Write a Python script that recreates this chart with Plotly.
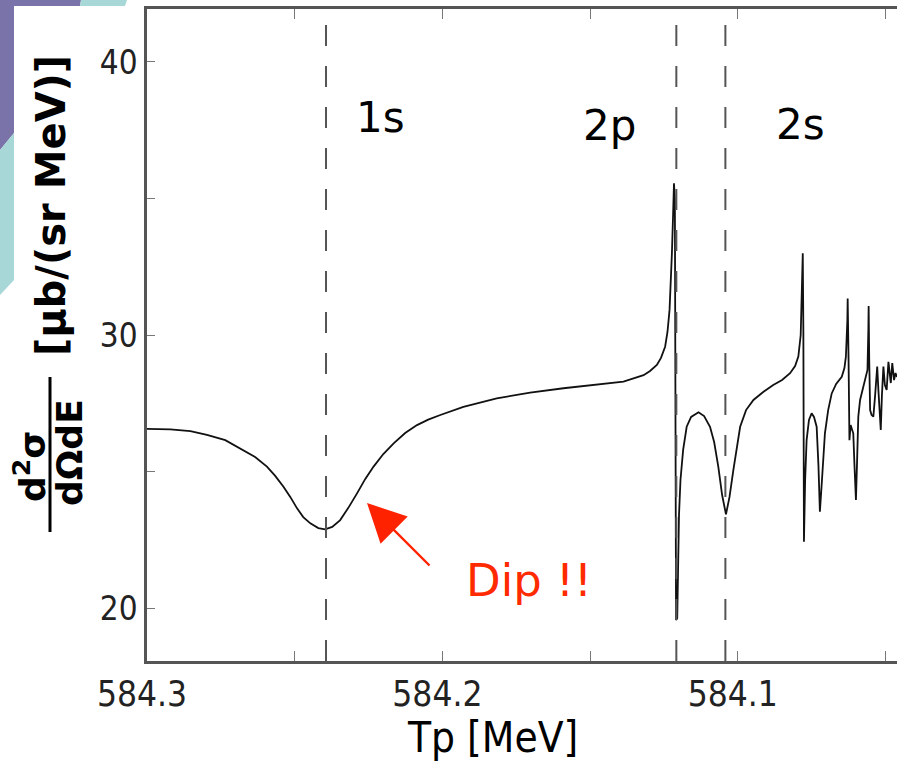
import plotly.graph_objects as go

# ---- data ----
tp_mev = [
    584.3000, 584.2921, 584.2853, 584.2797, 584.2735, 584.2684, 584.2634, 584.2594,
    584.2566, 584.2538, 584.2515, 584.2492, 584.2471, 584.2447, 584.2420, 584.2397,
    584.2373, 584.2346, 584.2319, 584.2289, 584.2261, 584.2233, 584.2200, 584.2165,
    584.2126, 584.2086, 584.2048, 584.2007, 584.1929, 584.1816, 584.1703, 584.1590,
    584.1477, 584.1387, 584.1319, 584.1297, 584.1274, 584.1260, 584.1246, 584.1238,
    584.1231, 584.1227, 584.1223, 584.1219, 584.1216, 584.1213, 584.1211, 584.1209,
    584.1205, 584.1202, 584.1199, 584.1194, 584.1185, 584.1173, 584.1158, 584.1133,
    584.1114, 584.1094, 584.1080, 584.1066, 584.1053, 584.1040, 584.1028, 584.1015,
    584.1002, 584.0992, 584.0972, 584.0947, 584.0914, 584.0880, 584.0850, 584.0823,
    584.0806, 584.0795, 584.0787, 584.0783, 584.0780, 584.0778, 584.0776, 584.0772,
    584.0767, 584.0759, 584.0750, 584.0742, 584.0733, 584.0727, 584.0722, 584.0715,
    584.0705, 584.0694, 584.0682, 584.0667, 584.0648, 584.0639, 584.0634, 584.0629,
    584.0628, 584.0625, 584.0622, 584.0618, 584.0614, 584.0609, 584.0605, 584.0600,
    584.0596, 584.0592, 584.0586, 584.0575, 584.0566, 584.0561, 584.0558, 584.0557,
    584.0555, 584.0552, 584.0547, 584.0541, 584.0535, 584.0530, 584.0528, 584.0524,
    584.0516, 584.0512, 584.0507, 584.0502, 584.0496, 584.0490, 584.0486, 584.0482,
    584.0477, 584.0471, 584.0466, 584.0461,
]
cross_section = [
    26.56, 26.54, 26.48, 26.34, 26.15, 25.85, 25.53, 25.18,
    24.84, 24.44, 24.07, 23.65, 23.33, 23.10, 22.93, 22.88,
    22.97, 23.22, 23.66, 24.20, 24.73, 25.18, 25.64, 26.03,
    26.41, 26.70, 26.90, 27.07, 27.37, 27.68, 27.89, 28.05,
    28.17, 28.29, 28.53, 28.68, 28.90, 29.16, 29.57, 30.11,
    30.92, 31.83, 32.99, 34.40, 35.56, 34.95, 27.62, 19.56,
    19.63, 21.76, 23.41, 24.69, 25.79, 26.64, 27.00, 27.17,
    27.03, 26.64, 26.08, 25.18, 24.14, 23.43, 24.07, 25.05,
    25.97, 26.64, 27.25, 27.62, 27.91, 28.17, 28.35, 28.60,
    28.86, 29.21, 30.00, 31.28, 32.99, 30.18, 22.43, 24.69,
    26.15, 26.89, 27.13, 27.00, 26.64, 25.24, 23.53, 24.69,
    26.40, 27.25, 27.86, 28.21, 28.47, 28.79, 29.21, 30.55,
    31.34, 29.08, 26.15, 26.70, 26.52, 26.40, 25.24, 23.96,
    25.42, 27.01, 27.62, 28.11, 28.50, 28.72, 30.18, 31.06,
    29.08, 27.25, 27.07, 27.01, 27.80, 28.72, 28.84, 27.99,
    26.52, 27.80, 28.84, 28.17, 27.99, 29.02, 28.53, 28.24,
    28.97, 28.35, 28.61, 28.46,
]
level_names = ["1s", "2p", "2s"]
level_tp = [584.2394, 584.1208, 584.1042]

x_tickvals = [584.3, 584.25, 584.2, 584.15, 584.1, 584.05]
x_ticktext = ["584.3", "", "584.2", "", "584.1", ""]
y_tickvals = [20, 25, 30, 35, 40]
y_ticktext = ["20", "", "30", "", "40"]
x_range = [584.3, 584.0461]
y_range = [18.06, 41.94]

# ---- layout helpers (pixel -> paper) ----
W, H = 897, 764
ML, MR, MT, MB = 147, 0, 9, 103
PW, PH = W - ML - MR, H - MT - MB


def px(x):
    return (x - ML) / PW


def py(y):
    return (H - MB - y) / PH


def path(points):
    s = "M " + " L ".join(f"{px(a):.5f},{py(b):.5f}" for a, b in points) + " Z"
    return s


narrow = "DejaVu Sans Condensed, Liberation Sans Narrow, sans-serif"
verd = "DejaVu Sans, Verdana, sans-serif"

fig = go.Figure()
fig.add_trace(go.Scatter(
    x=tp_mev, y=cross_section, mode="lines",
    line=dict(color="#111111", width=1.8), hoverinfo="skip", showlegend=False,
))

shapes = []
# level dashed lines
for t in level_tp:
    shapes.append(dict(type="line", xref="x", yref="paper", x0=t, x1=t, y0=0, y1=py(25),
                       line=dict(color="#555555", width=2, dash="21px,20px")))
# decorative slide background pieces
purple = "#7a73a9"
teal = "#a7d7d6"
shapes.append(dict(type="path", xref="paper", yref="paper", layer="above",
                   path=path([(0, 0), (81, 0), (80, 6), (14, 6), (14, 133), (0, 150)]),
                   fillcolor=purple, line=dict(width=0)))
shapes.append(dict(type="path", xref="paper", yref="paper", layer="above",
                   path=path([(81, 0), (127, 0), (125, 6), (80, 6)]),
                   fillcolor=teal, line=dict(width=0)))
shapes.append(dict(type="path", xref="paper", yref="paper", layer="above",
                   path=path([(14, 133), (14, 280), (0, 295), (0, 150)]),
                   fillcolor=teal, line=dict(width=0)))
# fraction bar of the y label
shapes.append(dict(type="line", xref="paper", yref="paper",
                   x0=px(50), x1=px(50), y0=py(377), y1=py(532),
                   line=dict(color="#000000", width=3)))

annotations = []
# level labels
label_pos = {"1s": (380, 117), "2p": (609, 126), "2s": (800, 125)}
for name in level_names:
    lx, ly = label_pos[name]
    annotations.append(dict(text=name, xref="paper", yref="paper", x=px(lx), y=py(ly),
                            showarrow=False, xanchor="center", yanchor="middle",
                            font=dict(family=verd, size=42, color="#000000")))
# Dip annotation + arrow
annotations.append(dict(text="", xref="paper", yref="paper", x=px(367), y=py(503),
                        ax=64, ay=64, axref="pixel", ayref="pixel", showarrow=True,
                        arrowhead=2, arrowsize=3.2, arrowwidth=2.4, arrowcolor="#ff2200",
                        standoff=0))
annotations.append(dict(text="Dip !!", xref="paper", yref="paper", x=px(529), y=py(580),
                        showarrow=False, xanchor="center", yanchor="middle",
                        font=dict(family=verd, size=45, color="#ff2a00")))
# x title
annotations.append(dict(text="Tp [MeV]", xref="paper", yref="paper", x=px(492), y=py(737),
                        showarrow=False, xanchor="center", yanchor="middle",
                        font=dict(family=narrow, size=42, color="#000000")))
# y title pieces
vb = "DejaVu Sans, Verdana, sans-serif"
annotations.append(dict(text="<b>[μb/(sr MeV)]</b>", xref="paper", yref="paper",
                        x=px(51), y=py(206), textangle=-90, showarrow=False,
                        xanchor="center", yanchor="middle",
                        font=dict(family=vb, size=40, color="#000000")))
annotations.append(dict(text="<b>d<sup>2</sup>σ</b>", xref="paper", yref="paper",
                        x=px(30), y=py(467), textangle=-90, showarrow=False,
                        xanchor="center", yanchor="middle",
                        font=dict(family=vb, size=36, color="#000000")))
annotations.append(dict(text="<b>dΩdE</b>", xref="paper", yref="paper",
                        x=px(69), y=py(453), textangle=-90, showarrow=False,
                        xanchor="center", yanchor="middle",
                        font=dict(family=vb, size=36, color="#000000")))

fig.update_layout(
    width=W, height=H,
    margin=dict(l=ML, r=MR, t=MT, b=MB, pad=0),
    paper_bgcolor="white", plot_bgcolor="white",
    shapes=shapes, annotations=annotations, showlegend=False,
    xaxis=dict(range=x_range, autorange=False, tickvals=x_tickvals, ticktext=x_ticktext,
               ticks="inside", ticklen=10, tickwidth=1, tickcolor="#777777",
               showline=True, linecolor="#555555", linewidth=2.5, mirror="ticks",
               showgrid=False, zeroline=False, ticklabelshift=5,
               tickfont=dict(family=narrow, size=35, color="#222222")),
    yaxis=dict(range=y_range, autorange=False, tickvals=y_tickvals, ticktext=y_ticktext,
               ticks="inside", ticklen=8, tickwidth=1, tickcolor="#777777",
               showline=True, linecolor="#555555", linewidth=2.5, mirror=False,
               showgrid=False, zeroline=False,
               tickfont=dict(family=narrow, size=33, color="#222222")),
)

fig.write_html(
    "out.html",
    config={"displayModeBar": False},
    post_script="document.body.style.margin='0';document.body.style.overflow='hidden';",
)
